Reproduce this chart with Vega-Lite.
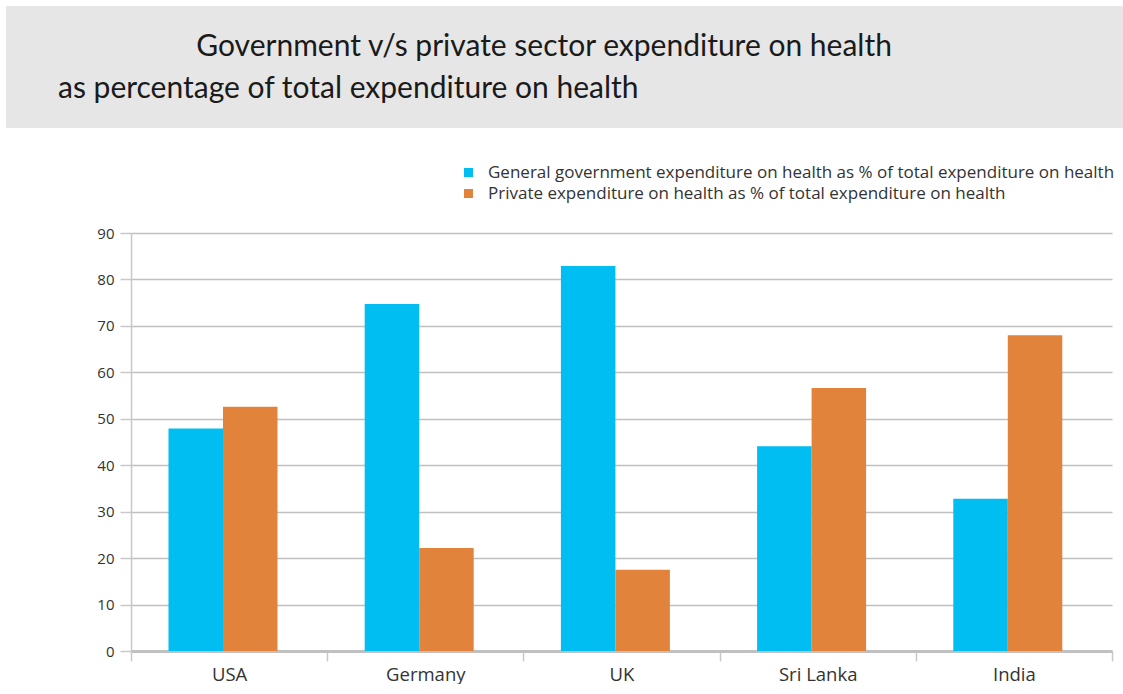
{
  "$schema": "https://vega.github.io/schema/vega-lite/v6.json",
  "padding": {"left": 6, "top": 6, "right": 0, "bottom": 0},
  "autosize": {"type": "pad"},
  "background": "white",
  "spacing": 98,
  "config": {
    "view": {"stroke": null},
    "font": "Open Sans"
  },
  "vconcat": [
    {
      "width": 1117,
      "height": 122,
      "view": {"fill": "#e6e6e6", "stroke": null},
      "data": {"values": [{"band": "title"}]},
      "mark": {"type": "rect", "fill": "#e6e6e6"},
      "encoding": {},
      "title": {
        "text": [
          "\u200b\u00a0\u00a0\u00a0\u00a0\u00a0\u00a0\u00a0\u00a0\u00a0\u00a0\u00a0\u00a0\u00a0\u00a0\u00a0\u00a0\u00a0\u00a0Government v/s private sector expenditure on health",
          "as percentage of total expenditure on health"
        ],
        "orient": "bottom",
        "anchor": "start",
        "frame": "group",
        "align": "left",
        "baseline": "top",
        "offset": -96,
        "dx": 52,
        "font": "Lato",
        "fontSize": 30,
        "fontWeight": "normal",
        "color": "#1a1a1a",
        "lineHeight": 42
      }
    },
    {
      "spacing": 0,
      "hconcat": [
        {
          "width": 50,
          "height": 418,
          "data": {"values": []},
          "mark": {"type": "rect"},
          "encoding": {}
        },
        {
          "width": 981,
          "height": 418,
          "data": {
            "values": [
              {"country": "USA", "series": "General government expenditure on health as % of total expenditure on health", "value": 47.9},
              {"country": "USA", "series": "Private expenditure on health as % of total expenditure on health", "value": 52.6},
              {"country": "Germany", "series": "General government expenditure on health as % of total expenditure on health", "value": 74.7},
              {"country": "Germany", "series": "Private expenditure on health as % of total expenditure on health", "value": 22.2},
              {"country": "UK", "series": "General government expenditure on health as % of total expenditure on health", "value": 82.9},
              {"country": "UK", "series": "Private expenditure on health as % of total expenditure on health", "value": 17.5},
              {"country": "Sri Lanka", "series": "General government expenditure on health as % of total expenditure on health", "value": 44.1},
              {"country": "Sri Lanka", "series": "Private expenditure on health as % of total expenditure on health", "value": 56.6},
              {"country": "India", "series": "General government expenditure on health as % of total expenditure on health", "value": 32.8},
              {"country": "India", "series": "Private expenditure on health as % of total expenditure on health", "value": 68.0}
            ]
          },
          "mark": {"type": "bar"},
          "encoding": {
            "x": {
              "field": "country",
              "type": "nominal",
              "sort": ["USA", "Germany", "UK", "Sri Lanka", "India"],
              "scale": {"paddingInner": 0, "paddingOuter": 0},
              "axis": {
                "title": null,
                "labelAngle": 0,
                "labelFontSize": 18.5,
                "labelColor": "#333333",
                "labelPadding": 4,
                "tickBand": "extent",
                "tickSize": 10,
                "tickColor": "#c8c8c8",
                "tickWidth": 1.5,
                "domainColor": "#c0c0c0",
                "domainWidth": 3,
                "grid": false
              }
            },
            "xOffset": {
              "field": "series",
              "type": "nominal",
              "sort": [
                "General government expenditure on health as % of total expenditure on health",
                "Private expenditure on health as % of total expenditure on health"
              ],
              "scale": {"paddingInner": 0, "paddingOuter": 0.8, "align": 0.43}
            },
            "y": {
              "field": "value",
              "type": "quantitative",
              "scale": {"domain": [0, 90], "nice": false},
              "axis": {
                "title": null,
                "values": [0, 10, 20, 30, 40, 50, 60, 70, 80, 90],
                "labelFontSize": 15,
                "labelColor": "#333333",
                "labelPadding": 6,
                "tickSize": 11,
                "tickColor": "#c8c8c8",
                "tickWidth": 1.5,
                "domainColor": "#c8c8c8",
                "domainWidth": 1.5,
                "gridColor": "#c0c0c0",
                "gridWidth": 1.5,
                "minExtent": 75,
                "maxExtent": 200
              }
            },
            "color": {
              "field": "series",
              "type": "nominal",
              "sort": [
                "General government expenditure on health as % of total expenditure on health",
                "Private expenditure on health as % of total expenditure on health"
              ],
              "scale": {"range": ["#00bdf2", "#e2833b"]},
              "legend": {
                "title": null,
                "orient": "none",
                "legendX": 454,
                "legendY": 158,
                "symbolType": "square",
                "symbolSize": 81,
                "symbolStrokeWidth": 0,
                "labelFontSize": 17,
                "labelColor": "#333333",
                "labelLimit": 700,
                "labelOffset": 11,
                "rowPadding": 3
              }
            }
          }
        }
      ]
    }
  ]
}
